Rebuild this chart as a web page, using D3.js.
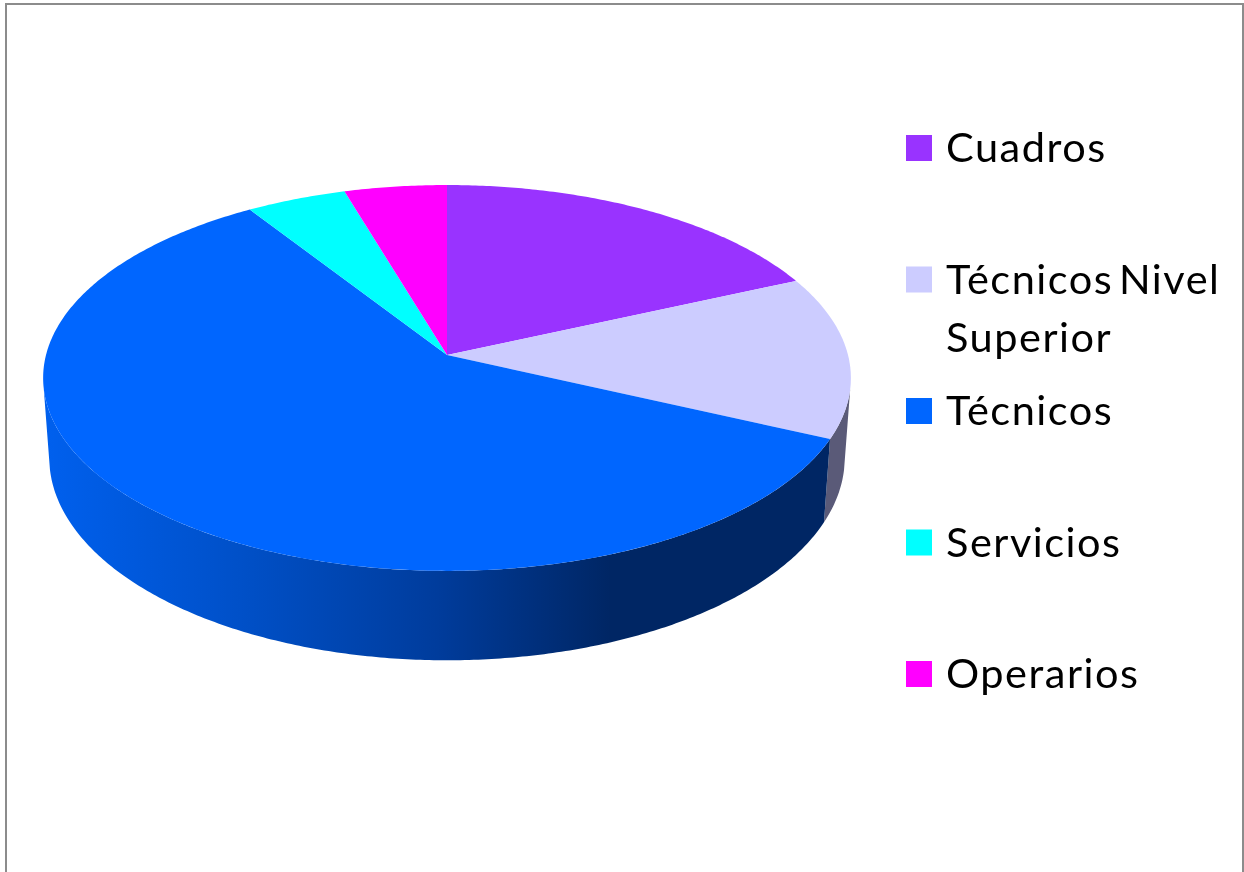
<!DOCTYPE html>
<html>
<head>
<meta charset="utf-8">
<script src="https://cdn.jsdelivr.net/npm/d3@7"></script>
<style>
  html, body { margin: 0; padding: 0; background: #fff; overflow: hidden; }
  text { font-family: Lato, sans-serif; font-size: 41.5px; letter-spacing: 1.5px; fill: #000; filter: blur(0.4px); }
  .pie { filter: blur(0.5px); }
</style>
</head>
<body>
<svg id="chart" width="1244" height="872"></svg>
<script>
// Chart data
const categories = ['Cuadros', 'Técnicos Nivel Superior', 'Técnicos', 'Servicios', 'Operarios'];
const values = [18.3, 13.6, 59, 4.5, 4.6];
const topColors = ['#9933ff', '#ccccff', '#0066ff', '#00ffff', '#ff00ff'];
const wallColors = ['#4d1a80', '#5a5a78', '#002664', '#008080', '#800080'];
const legendLines = [['Cuadros'], ['Técnicos', 'Nivel', 'Superior'], ['Técnicos'], ['Servicios'], ['Operarios']];

const svg = d3.select('#chart');

// Frame of the slide (open at the bottom)
svg.append('path')
    .attr('d', 'M6,872V4H1243V872')
    .attr('fill', 'none')
    .attr('stroke', '#8c8c8c')
    .attr('stroke-width', 2);

// Perspective of the pie disc: unit circle to screen
function projector(cy, a, b, k) {
  return angle => {
    const u = Math.sin(angle), v = Math.cos(angle);
    const w = 1 + k * v;
    return [447 + a * u / w, cy - b * v / w];
  };
}
const topFace = projector(355, 401, 190.2, 0.119);
const bottomFace = projector(434, 395, 199.8, 0.117);

const pie = d3.pie().sort(null);
const slices = pie(values);
const line = d3.line();

function arcAngles(start, end) {
  const n = Math.max(2, Math.ceil((end - start) / 0.01));
  return d3.range(n + 1).map(i => start + (end - start) * i / n);
}

// The wall only shows between these two angles, where the outline folds
const foldRight = 100 * Math.PI / 180;
const foldLeft = 260 * Math.PI / 180;

// Gradient along the wall of the big slice
const defs = svg.append('defs');
const grad = defs.append('linearGradient')
    .attr('id', 'wall-tecnicos')
    .attr('gradientUnits', 'userSpaceOnUse')
    .attr('x1', 44).attr('x2', 831).attr('y1', 0).attr('y2', 0);
[[0, '#0060ee'], [0.25, '#0050c8'], [0.5, '#003c9c'], [0.72, '#002664'], [1, '#002664']]
  .forEach(s => grad.append('stop').attr('offset', s[0]).attr('stop-color', s[1]));

const pieGroup = svg.append('g').attr('class', 'pie');

// Walls first, only the slices that reach the front
pieGroup.append('g').selectAll('path')
  .data(slices.map((d, i) => ({ i, start: Math.max(d.startAngle, foldRight), end: Math.min(d.endAngle, foldLeft) }))
    .filter(d => d.end > d.start))
  .enter().append('path')
    .attr('d', d => {
      const angles = arcAngles(d.start, d.end);
      return line(angles.map(topFace).concat(angles.slice().reverse().map(bottomFace))) + 'Z';
    })
    .attr('fill', d => d.i === 2 ? 'url(#wall-tecnicos)' : wallColors[d.i]);

// Top faces
pieGroup.append('g').selectAll('path')
  .data(slices)
  .enter().append('path')
    .attr('d', d => line([[447, 355]].concat(arcAngles(d.startAngle, d.endAngle).map(topFace))) + 'Z')
    .attr('fill', (d, i) => topColors[i]);

// Legend
const legendY = d3.scalePoint()
    .domain(categories)
    .range([135, 661]);

const legend = svg.append('g').selectAll('g')
  .data(categories)
  .enter().append('g')
    .attr('transform', d => `translate(906,${legendY(d)})`);

legend.append('rect')
    .attr('width', 26)
    .attr('height', 26)
    .attr('fill', (d, i) => topColors[i]);

legend.append('text')
    .attr('x', 40)
    .attr('y', 27)
    .text((d, i) => legendLines[i][0]);

// The long label wraps on two lines
const long = legend.filter((d, i) => i === 1);
long.append('text').attr('x', 213).attr('y', 27).text(legendLines[1][1]);
long.append('text').attr('x', 40).attr('y', 85).text(legendLines[1][2]);
</script>
</body>
</html>
